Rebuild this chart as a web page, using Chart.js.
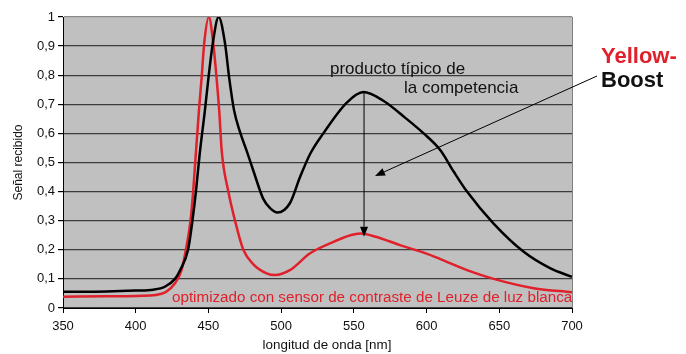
<!DOCTYPE html>
<html>
<head>
<meta charset="utf-8">
<script src="https://cdn.jsdelivr.net/npm/chart.js@4"></script>
<style>
  html, body { margin: 0; padding: 0; background: #fff; }
  #wrap { width: 686px; height: 354px; }
</style>
</head>
<body>
<div id="wrap"><canvas id="spectrum" width="686" height="354"></canvas></div>
<script>
// typical competitor product (black)
const competitorNm = [350, 380, 400, 412, 420, 427, 430.5, 436, 439, 441.4, 444, 447.6, 450, 453, 457,
  461.4, 464.3, 467.6, 471.7, 476.3, 481, 487.7, 492.4, 497.5, 506, 513, 520, 529, 545, 556.6,
  570, 585, 598, 609.5, 618.5, 627.8, 646.1, 666.8, 685.2, 700];
const competitorSignal = [0.056, 0.057, 0.06, 0.063, 0.073, 0.10, 0.13, 0.20, 0.30, 0.40, 0.53, 0.68, 0.79, 0.91, 1.0,
  0.91, 0.79, 0.68, 0.605, 0.54, 0.47, 0.375, 0.343, 0.328, 0.36, 0.45, 0.53, 0.60, 0.705, 0.742,
  0.713, 0.655, 0.60, 0.542, 0.47, 0.40, 0.29, 0.193, 0.136, 0.107];

// Leuze white light contrast sensor (red)
const leuzeNm = [350, 380, 410, 417, 421, 427, 431.5, 434.5, 437.7, 439.5, 441.2, 443.5, 445.3, 447.1, 450.3,
  453.3, 455.6, 457.4, 459.1, 463.7, 468.3, 474, 480.9, 490, 495.8, 506, 519.9, 533.6, 547.6, 554.5,
  565, 581.8, 600, 609.5, 627.8, 646.1, 673.6, 700];
const leuzeSignal = [0.039, 0.040, 0.043, 0.048, 0.056, 0.085, 0.13, 0.20, 0.30, 0.40, 0.52, 0.68, 0.79, 0.91, 1.0,
  0.91, 0.79, 0.68, 0.542, 0.40, 0.30, 0.20, 0.150, 0.119, 0.113, 0.13, 0.188, 0.222, 0.25, 0.256,
  0.245, 0.216, 0.187, 0.168, 0.13, 0.100, 0.068, 0.054];

const xTicks = [350, 400, 450, 500, 550, 600, 650, 700];
const yTickLabels = ['0', '0,1', '0,2', '0,3', '0,4', '0,5', '0,6', '0,7', '0,8', '0,9', '1'];

const FONT = "'Liberation Sans', Arial, sans-serif";
const RED = '#e0202b';

function toPoints(xs, ys) {
  return xs.map((x, i) => ({ x, y: ys[i] }));
}

function arrow(ctx, x1, y1, x2, y2) {
  const a = Math.atan2(y2 - y1, x2 - x1);
  const len = 10, half = 4;
  ctx.beginPath();
  ctx.moveTo(x1, y1);
  ctx.lineTo(x2 - Math.cos(a) * len, y2 - Math.sin(a) * len);
  ctx.stroke();
  ctx.beginPath();
  ctx.moveTo(x2, y2);
  ctx.lineTo(x2 - Math.cos(a) * len - Math.sin(a) * half, y2 - Math.sin(a) * len + Math.cos(a) * half);
  ctx.lineTo(x2 - Math.cos(a) * len + Math.sin(a) * half, y2 - Math.sin(a) * len - Math.cos(a) * half);
  ctx.closePath();
  ctx.fill();
}

const backdrop = {
  id: 'backdrop',
  beforeDraw(chart) {
    const { ctx, chartArea: a } = chart;
    ctx.save();
    ctx.fillStyle = '#c0c0c0';
    ctx.fillRect(a.left, a.top, a.right - a.left, a.bottom - a.top);
    ctx.restore();
  },
  afterDraw(chart) {
    const { ctx, chartArea: a, scales } = chart;
    ctx.save();
    // right border of plot
    ctx.strokeStyle = '#808080';
    ctx.lineWidth = 1;
    ctx.beginPath();
    ctx.moveTo(a.right + 0.5, a.top);
    ctx.lineTo(a.right + 0.5, a.bottom);
    ctx.stroke();

    // x axis title
    ctx.fillStyle = '#111';
    ctx.font = '13.4px ' + FONT;
    ctx.textAlign = 'center';
    ctx.textBaseline = 'alphabetic';
    ctx.fillText('longitud de onda [nm]', 327, 349);

    // labels inside the plot
    ctx.textAlign = 'left';
    ctx.font = '17px ' + FONT;
    ctx.fillStyle = '#111';
    ctx.fillText('producto típico de', 330, 74);
    ctx.fillText('la competencia', 404, 93);

    ctx.fillStyle = RED;
    ctx.font = '15.2px ' + FONT;
    ctx.fillText('optimizado con sensor de contraste de Leuze de luz blanca', 172, 302);

    ctx.font = 'bold 22px ' + FONT;
    ctx.fillStyle = RED;
    ctx.fillText('Yellow-', 601, 63);
    ctx.fillStyle = '#111';
    ctx.fillText('Boost', 601, 87);

    // arrows
    ctx.strokeStyle = '#000';
    ctx.fillStyle = '#000';
    ctx.lineWidth = 1;
    const ax = scales.x.getPixelForValue(557);
    arrow(ctx, ax, scales.y.getPixelForValue(0.742), ax, scales.y.getPixelForValue(0.245));
    arrow(ctx, 597, 76, 375, 176);
    ctx.restore();
  }
};

new Chart(document.getElementById('spectrum'), {
  type: 'line',
  data: {
    datasets: [
      {
        label: 'producto típico de la competencia',
        data: toPoints(competitorNm, competitorSignal),
        borderColor: '#000',
        borderWidth: 2.5,
        pointRadius: 0,
        cubicInterpolationMode: 'monotone',
      },
      {
        label: 'optimizado con sensor de contraste de Leuze de luz blanca',
        data: toPoints(leuzeNm, leuzeSignal),
        borderColor: RED,
        borderWidth: 2.5,
        pointRadius: 0,
        cubicInterpolationMode: 'monotone',
      },
    ],
  },
  options: {
    responsive: false,
    animation: false,
    devicePixelRatio: 1,
    layout: { padding: { top: 17, right: 114, left: 0, bottom: 0 } },
    plugins: {
      legend: { display: false },
      tooltip: { enabled: false },
    },
    scales: {
      x: {
        type: 'linear',
        min: 350,
        max: 700,
        afterBuildTicks: (scale) => { scale.ticks = xTicks.map((v) => ({ value: v })); },
        afterFit: (scale) => { scale.height = 46; },
        ticks: {
          color: '#111',
          font: { family: FONT, size: 13 },
          padding: 6,
          maxRotation: 0,
        },
        grid: { drawOnChartArea: false, tickLength: 5, tickColor: '#000' },
        border: { color: '#000', width: 1 },
      },
      y: {
        min: 0,
        max: 1,
        afterBuildTicks: (scale) => { scale.ticks = yTickLabels.map((_, i) => ({ value: i / 10 })); },
        afterFit: (scale) => { scale.width = 63; },
        ticks: {
          color: '#111',
          font: { family: FONT, size: 13 },
          padding: 3,
          callback: (value) => yTickLabels[Math.round(value * 10)],
        },
        grid: {
          tickLength: 5,
          tickColor: '#000',
          color: (c) => (c.tick && c.tick.value === 1 ? '#8a8a8a' : '#3c3c3c'),
          lineWidth: 1.2,
        },
        border: { color: '#000', width: 1 },
        title: {
          display: true,
          text: 'Señal recibido',
          color: '#111',
          font: { family: FONT, size: 12 },
          padding: { top: 11, bottom: 0 },
        },
      },
    },
  },
  plugins: [backdrop],
});
</script>
</body>
</html>
